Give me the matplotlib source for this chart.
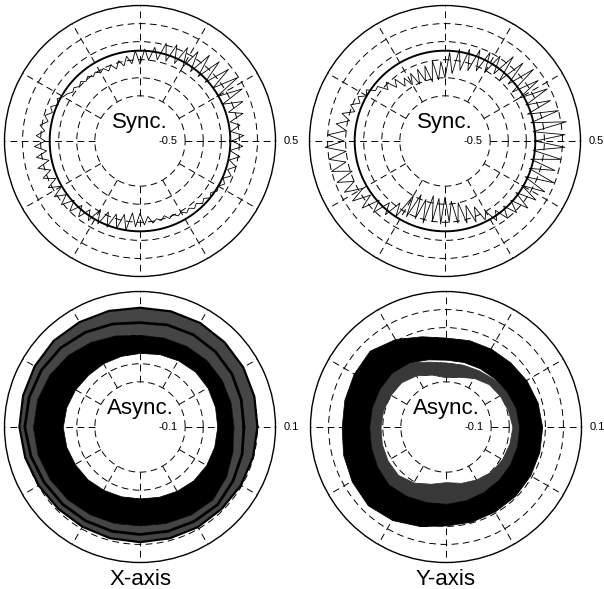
import numpy as np
import matplotlib
matplotlib.use('Agg')
import matplotlib.pyplot as plt

plt.rcParams['font.family'] = ['Liberation Sans', 'DejaVu Sans']

# ---- data ----
# sync traces: radius every 3 degrees (0..357)
sync_angle_deg = np.arange(0, 360, 3)
sync_x = [0.02, 0.15, 0.01, 0.12, 0.02, 0.18, 0.03,
          0.22, 0.00, 0.27, -0.02, 0.29, 0.00, 0.26, -0.03, 0.24, -0.04, 0.22, -0.05, 0.18,
          -0.05, 0.16, -0.06, 0.14, -0.07, 0.12, -0.08, 0.05, -0.10, 0.02,
          -0.15, 0.00, -0.14, -0.05, -0.15, -0.08, -0.16, -0.10, -0.15, -0.10,
          -0.13, -0.09, -0.12, -0.08, -0.11, -0.07, -0.10, -0.06, -0.08, -0.04,
          -0.02, 0.03, -0.01, 0.06, 0.02, 0.09, 0.04, 0.12, 0.06, 0.15,
          0.05, 0.17, 0.04, 0.16, 0.03, 0.17, 0.04, 0.15, 0.02, 0.14,
          0.00, 0.13, 0.01, 0.12, -0.02, 0.10, -0.04, 0.08, -0.06, 0.05,
          -0.12, 0.03, -0.14, 0.02, -0.15, 0.00, -0.17, 0.00, -0.20, -0.05,
          -0.20, -0.07, -0.16, -0.08, -0.12, -0.09, -0.13, -0.08, -0.11, -0.07,
          -0.09, -0.05, -0.08, -0.04, -0.07, -0.02, -0.05, 0.00, -0.03, 0.02,
          0.00, 0.05, 0.01, 0.08, 0.02, 0.10, 0.01, 0.12, 0.00, 0.14]
sync_y = [0.00, 0.33, -0.02, 0.36, -0.03, 0.30, -0.04, 0.25, -0.02, 0.27,
          -0.05, 0.23, -0.08, 0.26, -0.06, 0.22, -0.10, 0.20, -0.08, 0.12,
          -0.12, 0.10, -0.15, 0.08, -0.18, 0.05, -0.20, 0.03, -0.25, -0.02,
          -0.30, -0.12, -0.32, -0.10, -0.33, -0.14, -0.30, -0.15, -0.31, -0.16,
          -0.28, -0.17, -0.25, -0.12, -0.20, -0.08, -0.15, -0.04, -0.05, 0.04,
          0.00, 0.08, 0.03, 0.12, 0.05, 0.18, 0.08, 0.22, 0.10, 0.30,
          0.12, 0.33, 0.10, 0.30, 0.12, 0.30, 0.08, 0.28, 0.10, 0.25,
          0.05, 0.22, 0.02, 0.18, -0.02, 0.12, -0.08, 0.05, -0.15, 0.00,
          -0.30, -0.06, -0.35, -0.08, -0.32, -0.06, -0.38, -0.10, -0.36, -0.08,
          -0.38, -0.10, -0.33, -0.08, -0.30, -0.06, -0.25, -0.04, -0.20, -0.02,
          -0.10, 0.05, -0.05, 0.10, -0.03, 0.12, -0.02, 0.18, -0.03, 0.20,
          -0.02, 0.24, -0.03, 0.29, -0.02, 0.26, -0.03, 0.30, -0.02, 0.33]

# async bands: radius every 15 degrees (0..345)
async_angle_deg = np.arange(0, 360, 15)
ax_dense_in = [-0.029, -0.028, -0.027, -0.027, -0.030, -0.033, -0.036, -0.037, -0.037, -0.037, -0.034, -0.031,
               -0.029, -0.031, -0.034, -0.036, -0.039, -0.041, -0.042, -0.040, -0.037, -0.033, -0.031, -0.030]
ax_dense_out = [0.007, 0.008, 0.009, 0.009, 0.007, 0.005, 0.004, 0.010, 0.018, 0.026, 0.032, 0.036,
                0.037, 0.035, 0.031, 0.027, 0.023, 0.020, 0.018, 0.020, 0.024, 0.027, 0.020, 0.012]
ax_strand_mid = [0.030, 0.032, 0.035, 0.036, 0.036, 0.034, 0.031, 0.036, 0.042, 0.048, 0.052, 0.054,
                 0.055, 0.050, 0.045, 0.042, 0.040, 0.039, 0.038, 0.039, 0.041, 0.043, 0.038, 0.034]
ax_strand_out = [0.060, 0.062, 0.064, 0.065, 0.066, 0.065, 0.064, 0.066, 0.068, 0.070, 0.069, 0.068,
                 0.067, 0.063, 0.059, 0.056, 0.055, 0.055, 0.055, 0.055, 0.056, 0.056, 0.058, 0.059]

ay_dense_in = [-0.038, -0.040, -0.044, -0.048, -0.050, -0.051, -0.051, -0.045, -0.035, -0.030, -0.030, -0.030,
               -0.030, -0.028, -0.024, -0.020, -0.024, -0.028, -0.030, -0.032, -0.034, -0.035, -0.036, -0.037]
ay_dense_out = [0.013, 0.010, 0.006, 0.002, 0.000, -0.001, -0.002, 0.008, 0.025, 0.039, 0.036, 0.033,
                0.031, 0.036, 0.041, 0.045, 0.038, 0.027, 0.018, 0.017, 0.016, 0.016, 0.015, 0.014]
ay_strand_out = [-0.038, -0.040, -0.044, -0.050, -0.055, -0.057, -0.057, -0.050, -0.035, -0.030, -0.030, -0.030,
                 -0.030, -0.028, -0.024, -0.020, -0.024, -0.028, -0.030, -0.032, -0.034, -0.035, -0.036, -0.037]
ay_strand_in = [-0.053, -0.058, -0.062, -0.066, -0.075, -0.085, -0.090, -0.080, -0.068, -0.060, -0.058, -0.056,
                -0.055, -0.053, -0.051, -0.050, -0.058, -0.070, -0.078, -0.072, -0.066, -0.060, -0.057, -0.055]

sync_ticks = [-0.5, -0.3, -0.1, 0.1, 0.3]
async_ticks = [-0.1, -0.06, -0.02, 0.02, 0.06]
spoke_deg = np.arange(0, 360, 30)

W, H = 604, 589
fig = plt.figure(figsize=(W / 100, H / 100), dpi=100)

dash = (0, (7, 4.5))


def make_panel(cx, cy, rlo, rhi, rcenter, ticks, lo_label, hi_label, title):
    rad = 135.5
    ax = fig.add_axes([(cx - rad) / W, (H - cy - rad) / H, 2 * rad / W, 2 * rad / H],
                      projection='polar')
    # centre of the dial sits below the lowest ring, leaving an empty middle
    ax.set_rlim(rcenter, rhi)
    ax.set_rticks(ticks)
    ax.set_yticklabels([])
    ax.set_xticks(np.deg2rad(spoke_deg))
    ax.set_xticklabels([])
    ax.tick_params(length=0)
    ax.xaxis.grid(False)
    ax.yaxis.grid(True, color='black', linestyle=dash, linewidth=0.7)
    ax.vlines(np.deg2rad(spoke_deg), rlo, rhi, colors='black', linestyles=dash, linewidth=0.7, zorder=1.5)
    ax.spines['polar'].set_linewidth(1.0)
    ax.annotate(lo_label, xy=(0, rlo), xytext=(-5.5, 0), textcoords='offset points',
                ha='right', va='center', fontsize=8, annotation_clip=False)
    ax.annotate(hi_label, xy=(0, rhi), xytext=(6, 0), textcoords='offset points',
                ha='left', va='center', fontsize=8, annotation_clip=False)
    ax.annotate(title, xy=(0.5, 0.5), xycoords='axes fraction', xytext=(0, 13),
                textcoords='offset points', ha='center', va='center', fontsize=16)
    return ax


def closed(deg, vals):
    th = np.deg2rad(np.append(deg, deg[0]))
    return th, np.append(vals, vals[0])


circle_th = np.linspace(0, 2 * np.pi, 361)

# top row: synchronous error motion
for cx, vals in [(140, sync_x), (445, sync_y)]:
    ax = make_panel(cx, 141, -0.5, 0.5, -1.0, sync_ticks, '-0.5', '0.5', 'Sync.')
    ax.plot(circle_th, np.zeros_like(circle_th), color='black', lw=1.4, zorder=3)
    th, r = closed(sync_angle_deg, vals)
    ax.plot(th, r, color='black', lw=0.6, zorder=4)

# bottom row: asynchronous error motion
ax = make_panel(140, 427, -0.1, 0.1, -0.2, async_ticks, '-0.1', '0.1', 'Async.')
th, r1 = closed(async_angle_deg, ax_dense_in)
_, r2 = closed(async_angle_deg, ax_dense_out)
_, r3 = closed(async_angle_deg, ax_strand_mid)
_, r4 = closed(async_angle_deg, ax_strand_out)
ax.fill_between(th, r2, r4, color='#454545', lw=0, zorder=2)
ax.plot(th, r3, color='black', lw=2.0, zorder=3)
ax.plot(th, r4, color='black', lw=1.6, zorder=3)
ax.fill_between(th, r1, r2, color='black', lw=0.5, edgecolor='black', zorder=3)

ax = make_panel(446, 427, -0.1, 0.1, -0.2, async_ticks, '-0.1', '0.1', 'Async.')
th, r1 = closed(async_angle_deg, ay_dense_in)
_, r2 = closed(async_angle_deg, ay_dense_out)
_, r3 = closed(async_angle_deg, ay_strand_in)
_, r4 = closed(async_angle_deg, ay_strand_out)
ax.fill_between(th, r3, r4, color='#383838', lw=0.5, edgecolor='#383838', zorder=2)
ax.fill_between(th, r1, r2, color='black', lw=0.5, edgecolor='black', zorder=3)

fig.text(140 / W, 4 / H, 'X-axis', ha='center', va='baseline', fontsize=16)
fig.text(446 / W, 4 / H, 'Y-axis', ha='center', va='baseline', fontsize=16)

fig.savefig('out.png', dpi=100)
